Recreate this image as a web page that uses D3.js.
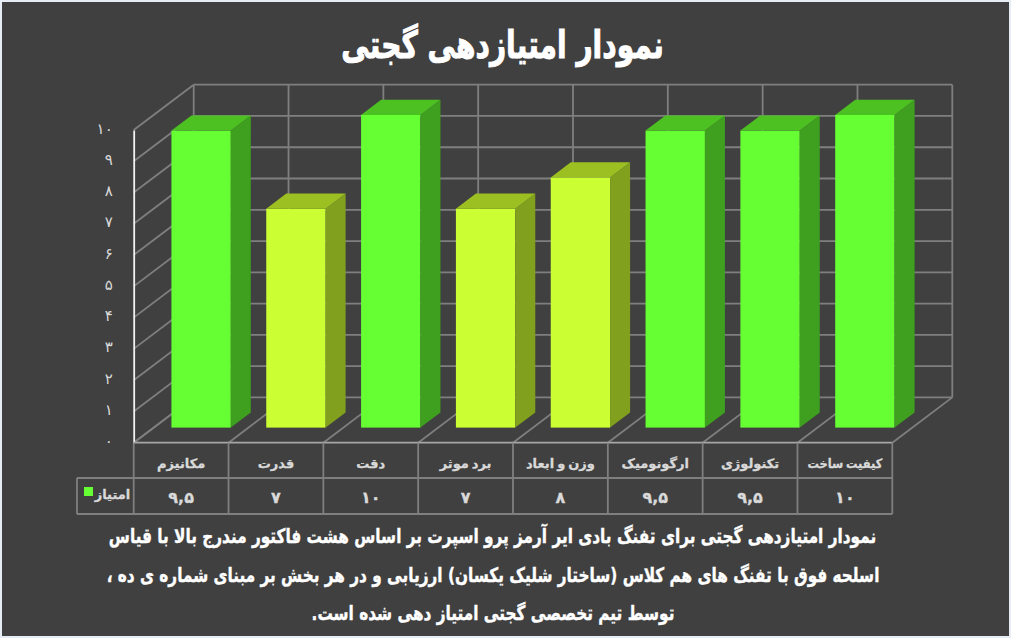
<!DOCTYPE html>
<html lang="fa"><head><meta charset="utf-8">
<script src="https://cdn.jsdelivr.net/npm/d3@7/dist/d3.min.js"></script>
<style>html,body{margin:0;padding:0;background:#e6edf4;overflow:hidden}svg{display:block}text{font-family:"DejaVu Sans",sans-serif}</style>
</head><body><svg id="c" width="1011" height="638"></svg>
<script>
const categories = ["مکانیزم","قدرت","دقت","برد موثر","وزن و ابعاد","ارگونومیک","تکنولوژی","کیفیت ساخت"];
const values = [9.5,7,10,7,8,9.5,9.5,10];
const valueLabels = ["۹,۵","۷","۱۰","۷","۸","۹,۵","۹,۵","۱۰"];
const tickValues = [0,1,2,3,4,5,6,7,8,9,10];
const tickLabels = ["۰","۱","۲","۳","۴","۵","۶","۷","۸","۹","۱۰"];
const seriesName = "امتیاز";
const titleText = "نمودار امتیازدهی گجتی";
const captionLines = [
 "نمودار امتیازدهی گجتی برای تفنگ بادی ایر آرمز پرو اسپرت بر اساس هشت فاکتور مندرج بالا با قیاس",
 "اسلحه فوق با تفنگ های هم کلاس (ساختار شلیک یکسان) ارزیابی و در هر بخش بر مبنای شماره ی ده ،",
 "توسط تیم تخصصی گجتی امتیاز دهی شده است."];

const svg = d3.select("#c");
const L=133.7,R=892.3,T=130,B=442.7,DX=60,DY=-45.3,legendL=77,rowA=478,rowB=514;
const grid="#7f7f7f";
const x=d3.scaleBand().domain(categories).range([L,R]).padding(0);
const y=d3.scaleLinear().domain([0,10]).range([B,T]);
const edges=[L,...categories.map(c=>x(c)+x.bandwidth())];

svg.append("rect").attr("x",2).attr("y",2).attr("width",1007).attr("height",634).attr("fill","#404040");
svg.append("text").attr("transform","translate(502.5,58) scale(0.74,1)").attr("text-anchor","middle").attr("direction","rtl")
  .attr("font-size",38).attr("font-weight","bold").attr("fill","#fff").attr("stroke","#fff").attr("stroke-width",1).text(titleText);

const g=svg.append("g").attr("fill","none").attr("stroke",grid).attr("stroke-width",1.8);
// back wall and side wall gridlines
tickValues.forEach(t=>{
  g.append("line").attr("x1",L+DX).attr("x2",R+DX).attr("y1",y(t)+DY).attr("y2",y(t)+DY);
  g.append("line").attr("x1",L).attr("x2",L+DX).attr("y1",y(t)).attr("y2",y(t)+DY);
});
edges.forEach(e=>{
  g.append("line").attr("x1",e+DX).attr("x2",e+DX).attr("y1",y(0)+DY).attr("y2",y(10)+DY);
  g.append("line").attr("x1",e).attr("x2",e+DX).attr("y1",y(0)).attr("y2",y(0)+DY);
});

// bars
const fx=DX/3,fy=DY/3;
const pal=v=> v>=9 ? {f:"#66ff33",s:"#3ea01e",t:"#4dc022"} : {f:"#ccff33",s:"#80a01e",t:"#9cc022"};
const bars=svg.append("g").selectAll("g").data(categories.map((c,i)=>({c,v:values[i]}))).join("g");
const bw=x.bandwidth()*0.626;
const x0=d=>x(d.c)+(x.bandwidth()-bw)/2+fx;
const yb=y(0)+fy, yt=d=>y(d.v)+fy;
bars.append("rect").attr("x",x0).attr("y",yt).attr("width",bw).attr("height",d=>yb-yt(d)).attr("fill",d=>pal(d.v).f);
bars.append("path").attr("fill",d=>pal(d.v).s).attr("d",d=>{
  const a=x0(d)+bw;return `M${a},${yb}L${a},${yt(d)}L${a+fx},${yt(d)+fy}L${a+fx},${yb+fy}Z`;});
bars.append("path").attr("fill",d=>pal(d.v).t).attr("d",d=>{
  const a=x0(d),t=yt(d);return `M${a},${t}L${a+fx},${t+fy}L${a+bw+fx},${t+fy}L${a+bw},${t}Z`;});

// axes
const ya=svg.append("g").attr("transform",`translate(${L},0)`)
  .call(d3.axisLeft(y).tickValues(tickValues).tickSize(0).tickPadding(21).tickFormat((d,i)=>tickLabels[i]));
ya.select(".domain").attr("stroke","#f2f2f2").attr("stroke-width",1.8);
ya.selectAll("text").attr("fill","#d9d9d9").attr("font-size",15).attr("dy","0.2em");

// data table
const tb=svg.append("g").attr("stroke",grid).attr("stroke-width",1.8);
tb.append("line").attr("x1",L).attr("x2",R).attr("y1",B).attr("y2",B).attr("stroke","#a6a6a6");
tb.append("line").attr("x1",legendL).attr("x2",R).attr("y1",rowA).attr("y2",rowA);
tb.append("line").attr("x1",legendL).attr("x2",R).attr("y1",rowB).attr("y2",rowB);
tb.append("line").attr("x1",legendL).attr("x2",legendL).attr("y1",rowA).attr("y2",rowB);
edges.forEach(e=>tb.append("line").attr("x1",e).attr("x2",e).attr("y1",B).attr("y2",rowB));
const cols=svg.append("g").attr("fill","#d9d9d9").attr("stroke","#d9d9d9").attr("stroke-width",0.3).attr("font-weight","bold").attr("text-anchor","middle").attr("direction","rtl");
categories.forEach((c,i)=>{
  const m=x(c)+x.bandwidth()/2;
  const sx=c==="کیفیت ساخت"?0.88:1;
  cols.append("text").attr("transform",`translate(${m},${B+25}) scale(${sx},1)`).attr("font-size",13).attr("word-spacing",-1.5).text(c);
  cols.append("text").attr("x",m).attr("y",rowA+25).attr("font-size",16).text(valueLabels[i]);
});
svg.append("rect").attr("x",84).attr("y",487).attr("width",9).attr("height",9).attr("fill","#66ff33");
cols.append("text").attr("x",112.5).attr("y",rowA+21).attr("font-size",13).text(seriesName);

// caption
const capY=[543,582,620];
const capX=[492.5,493,493];
svg.append("g").attr("fill","#fff").attr("stroke","#fff").attr("stroke-width",0.4).attr("font-weight","bold").attr("text-anchor","middle").attr("direction","rtl")
  .selectAll("text").data(captionLines).join("text").attr("transform",(d,i)=>`translate(${capX[i]},${capY[i]}) scale(0.765,1)`).attr("font-size",20).text(d=>d);
</script></body></html>
